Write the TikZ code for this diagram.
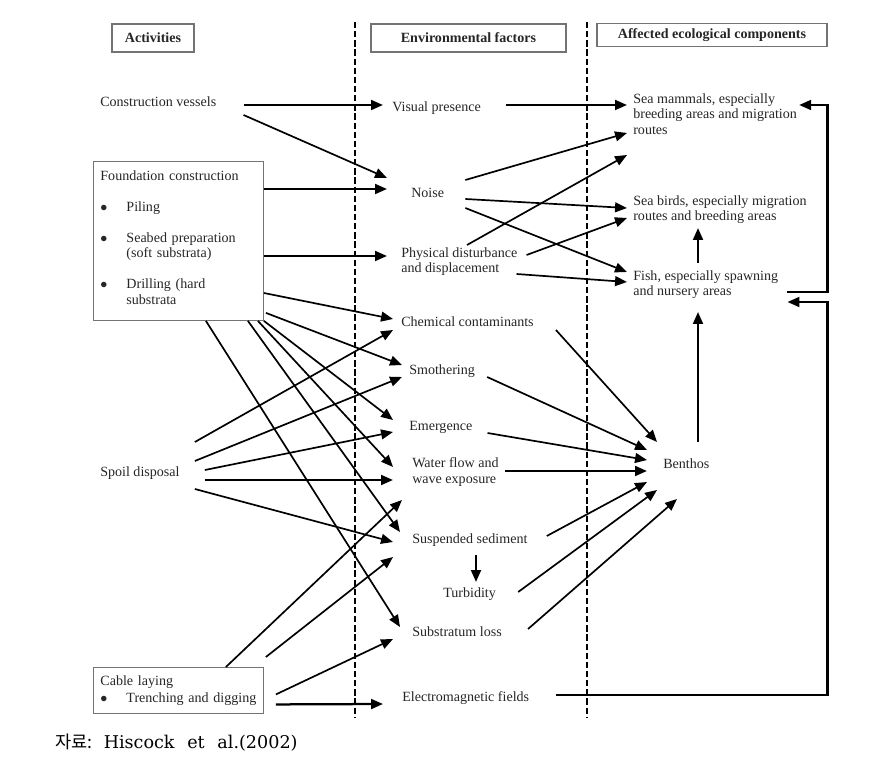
\documentclass[tikz,border=0pt]{standalone}
\usepackage{fontspec}
\setmainfont{Liberation Serif}
\newfontfamily\cjkfont{Noto Sans CJK KR}
\newfontfamily\srcfont{DejaVu Serif}
\usetikzlibrary{arrows.meta}
\newcommand{\bul}{\makebox[18.5pt][l]{$\bullet$}}

\begin{document}
\begin{tikzpicture}[
    x=0.025cm, y=-0.025cm,
    >={Triangle[length=8.5pt,width=7pt]},
    font=\fontsize{10}{11}\selectfont,
    txt/.style = {anchor=west, inner sep=0pt, align=left, text=black!85},
    head/.style = {
      draw=black!55,
      line width=0.8pt,
      font=\fontsize{10}{11}\selectfont\bfseries,
      text=black!85
    },
    actbox/.style = {
      draw=black!55,
      line width=0.6pt,
      anchor=north west,
      align=left,
      text=black!85,
      inner xsep=0.175cm,
      text width=3.9cm
    },
    link/.style = {->, line width=1.2pt},
    hlink/.style = {->, line width=1.6pt},
    divider/.style = {line width=1.1pt, dash pattern=on 4.5pt off 2pt}
  ]
  \useasboundingbox (0,0) rectangle (894,760);
  \node[head, minimum width=2.05cm, minimum height=0.7cm] (hact) at (153,38) {Activities};
  \node[head, minimum width=4.875cm, minimum height=0.7cm] (henv) at (468.5,38) {Environmental factors};
  \node[head, minimum width=5.75cm, minimum height=0.55cm, text depth=0.6ex] (haff) at (712,35) {Affected ecological components};
  \draw[divider] (355,22) -- (355,718);
  \draw[divider] (587,22) -- (587,718);

  % activities
  \node[txt] (vessels) at (100,102) {Construction vessels};
  \node[actbox, minimum height=3.975cm] (found) at (93,161) {Foundation construction\\[11pt]
    \bul Piling\\[11pt]
    \bul Seabed preparation\\\hspace*{18.5pt}(soft substrata)\\[11pt]
    \bul Drilling (hard\\\hspace*{18.5pt}substrata\\[-6pt]\mbox{}};
  \node[txt] (spoil) at (100,473) {Spoil disposal};
  \node[actbox, minimum height=1.15cm] (cable) at (93,667) {Cable laying\\[1pt]\bul Trenching and digging};

  % environmental factors
  \node[txt] (visual) at (392,108) {Visual presence};
  \node[txt] (noise) at (411,193) {Noise};
  \node[txt] (phys) at (401,261.5) {Physical disturbance\\and displacement};
  \node[txt] (chem) at (401,322) {Chemical contaminants};
  \node[txt] (smoth) at (409,371) {Smothering};
  \node[txt] (emerg) at (409,427) {Emergence};
  \node[txt] (water) at (412,472) {Water flow and\\wave exposure};
  \node[txt] (susp) at (412,540) {Suspended sediment};
  \node[txt] (turb) at (443,594) {Turbidity};
  \node[txt] (subst) at (412,632) {Substratum loss};
  \node[txt] (emf) at (402,698) {Electromagnetic fields};

  % ecological components
  \node[txt] (mammals) at (633,114) {Sea mammals, especially\\breeding areas and migration\\routes};
  \node[txt] (birds) at (633,209.5) {Sea birds, especially migration\\routes and breeding areas};
  \node[txt] (fish) at (633,284.5) {Fish, especially spawning\\and nursery areas};
  \node[txt] (benthos) at (663,464) {Benthos};

  \node[anchor=west, inner sep=0pt] (source) at (55,743)
    {\cjkfont\fontsize{12.5}{14}\selectfont 자료:\hspace{8pt}\srcfont Hiscock\hspace{9pt}et\hspace{9pt}al.(2002)};

  \draw[hlink] ([shift={(27,3)}]vessels.east) -- ([shift={(-9,-3)}]visual.west);
  \draw[link] ([shift={(27,13)}]vessels.east) -- ([shift={(-24,-15)}]noise.west);
  \draw[hlink] ([shift={(0,28)}]found.north east) -- ([shift={(-24,-4)}]noise.west);
  \draw[hlink] ([shift={(0,95)}]found.north east) -- ([shift={(-14,-5.5)}]phys.west);
  \draw[link] ([shift={(0,132)}]found.north east) -- ([shift={(-8,-3)}]chem.west);
  \draw[link] ([shift={(2,-8)}]found.south east) -- ([shift={(-7,-6)}]smoth.west);
  \draw[link] (found.south east) -- ([shift={(-16,-7)}]emerg.west);
  \draw[link] ([shift={(-6,0)}]found.south east) -- ([shift={(-19,-5)}]water.west);
  \draw[link] ([shift={(-16,0)}]found.south east) -- ([shift={(-12,-8)}]susp.west);
  \draw[link] ([shift={(-58,0)}]found.south east) -- ([shift={(-12,-5)}]subst.west);

  \draw[link] ([shift={(15,-31)}]spoil.east) -- ([shift={(-8,8)}]chem.west);
  \draw[link] ([shift={(15,-12)}]spoil.east) -- ([shift={(-7,6)}]smoth.west);
  \draw[link] ([shift={(25,-3)}]spoil.east) -- ([shift={(-16,5)}]emerg.west);
  \draw[hlink] ([shift={(25,7)}]spoil.east) -- ([shift={(-19,8)}]water.west);
  \draw[link] ([shift={(15,16)}]spoil.east) -- ([shift={(-19,2)}]susp.west);

  \draw[link] ([shift={(-38,0)}]cable.north east) -- ([shift={(-10,28)}]water.west);
  \draw[link] ([shift={(2,-10)}]cable.north east) -- ([shift={(-19,17)}]susp.west);
  \draw[link] ([shift={(12,4)}]cable.east) -- ([shift={(-19,7)}]subst.west);
  \draw[hlink] ([shift={(12,14)}]cable.east) -- ([shift={(-19,6)}]emf.west);

  \draw[hlink] ([shift={(25,-3)}]visual.east) -- ([shift={(-6,-9)}]mammals.west);
  \draw[link] ([shift={(21,-13)}]noise.east) -- ([shift={(-6,19)}]mammals.west);
  \draw[link] ([shift={(66,-16.5)}]phys.west) -- ([shift={(-6,41)}]mammals.west);
  \draw[link] ([shift={(21,6)}]noise.east) -- ([shift={(-6,-1.5)}]birds.west);
  \draw[link] ([shift={(9,-6.5)}]phys.east) -- ([shift={(-6,8.5)}]birds.west);
  \draw[link] ([shift={(21,15)}]noise.east) -- ([shift={(-6,-12.5)}]fish.west);
  \draw[link] ([shift={(-1,12.5)}]phys.east) -- ([shift={(-6,-2.5)}]fish.west);
  \draw[hlink] ([shift={(65,-21.5)}]fish.west) -- ([shift={(65,18.5)}]birds.west);
  \draw[hlink] ([shift={(35,-22)}]benthos.west) -- ([shift={(65,27.5)}]fish.west);
  \draw[hlink] ([shift={(9,7.5)}]fish.east) -- ++(40,0) |- ([shift={(2,-9)}]mammals.east);
  \draw[hlink] ([shift={(27,-3)}]emf.east) -- ++(271,0) |- ([shift={(9,17.5)}]fish.east);

  \draw[link] ([shift={(22,8)}]chem.east) -- ([shift={(-6,-22)}]benthos.west);
  \draw[link] ([shift={(12,6)}]smoth.east) -- ([shift={(-16,-14)}]benthos.west);
  \draw[link] ([shift={(15,6)}]emerg.east) -- ([shift={(-16,-4)}]benthos.west);
  \draw[hlink] ([shift={(6,-1)}]water.east) -- ([shift={(-16,7)}]benthos.west);
  \draw[link] ([shift={(19,-4)}]susp.east) -- ([shift={(-16,18)}]benthos.west);
  \draw[link] ([shift={(22,-2)}]turb.east) -- ([shift={(-6,26)}]benthos.west);
  \draw[link] ([shift={(26,-3)}]subst.east) -- ([shift={(14,35)}]benthos.west);
  \draw[hlink] ([shift={(64,15)}]susp.west) -- ([shift={(33,-12)}]turb.west);
\end{tikzpicture}
\end{document}
